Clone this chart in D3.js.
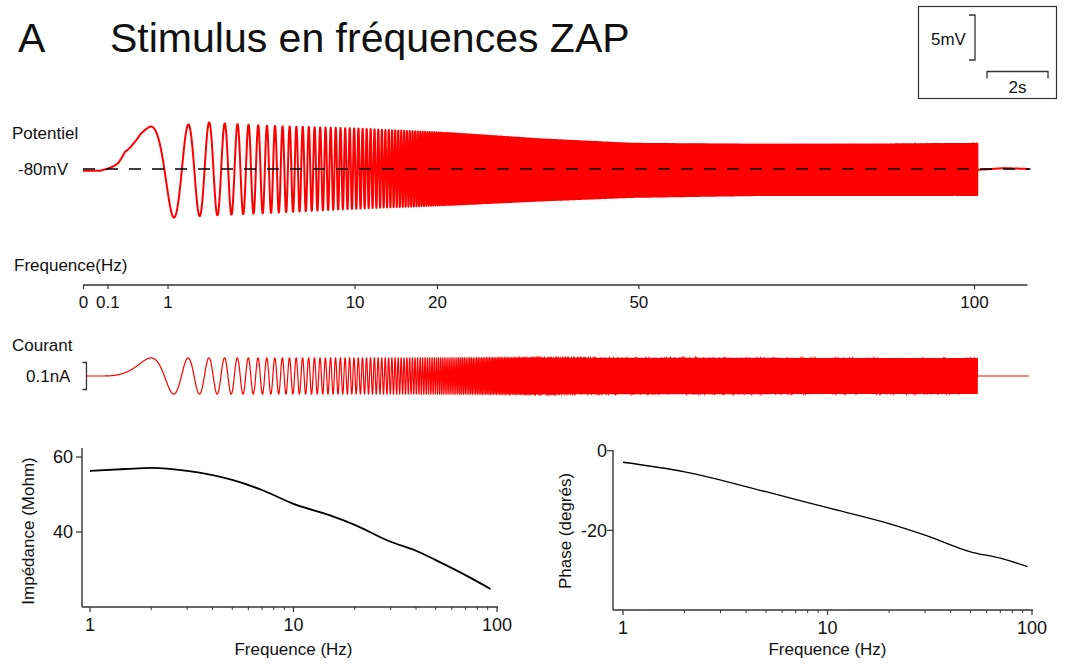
<!DOCTYPE html>
<html><head><meta charset="utf-8">
<script src="https://cdn.jsdelivr.net/npm/d3@7"></script>
<style>
body{margin:0;background:#fff}
svg{display:block}
text{font-family:"Liberation Sans",Arial,Helvetica,sans-serif;fill:#111}
</style>
</head><body>
<svg id="c" width="1068" height="665"></svg>
<script>
// ---------------- DATA ----------------
// Frequency annotation axis of the ZAP stimulus (Hz) and the time (s) at which it is reached
const freqTickValues = [0, 0.1, 1, 10, 20, 50, 100];
const freqTickLabels = ["0", "0.1", "1", "10", "20", "50", "100"];
const freqTickTimes  = [0, 0.8, 2.77, 8.9, 11.6, 18.2, 29.2];

// Instantaneous chirp frequency (time s -> Hz)
const chirpTimes = [0.56, 2.82, 5.97, 9.57, 11.6, 18.2, 29.3];
const chirpFreqs = [0, 0.82, 3.6, 8, 14, 40, 100];
const stimulusEnd = 29.31;   // s
const recordEnd = 31.0;      // s

// Current amplitude (nA)
const currentAmplitude = 0.067;

// Membrane potential envelope (mV relative to -80 mV)
const envTimes = [0, 0.56, 0.9, 1.15, 1.38, 1.64, 1.87, 2.13, 2.4, 2.95, 4.0, 6.0, 9.0, 12.0, 15.0, 18.0, 22.0, 26.0, 29.31, 29.32, 30.2, 31.0];
const envUpper = [-0.2, -0.2, 1.7, 3.1, 4.7, 5.2, 5.3, 4.8, 4.6, 4.7, 5.2, 4.8, 4.5, 4.0, 3.3, 2.8, 2.7, 2.7, 2.8, 0.0, 0.2, 0.0];
const envLower = [-0.2, -0.2, -1.3, -1.9, -1.7, -2.4, -3.1, -4.2, -5.0, -5.4, -5.2, -4.9, -4.4, -4.0, -3.5, -3.1, -2.9, -2.9, -2.9, -0.2, 0.0, 0.0];

// Impedance vs frequency
const impFreq = [1, 1.5, 2, 3, 5, 7, 10, 15, 20, 30, 40, 50, 70, 93];
const impValue = [56.3, 56.8, 57.1, 56.3, 53.9, 51.2, 47.5, 44.5, 41.9, 37.4, 35.0, 32.5, 28.5, 24.8];
const impTicks = [40, 60];

// Phase vs frequency (degrees)
const phaseFreq = [1, 2, 5, 10, 20, 30, 50, 70, 95];
const phaseValue = [-2.9, -5.3, -10.3, -14.3, -18.3, -21.2, -25.4, -27.0, -29.1];
const phaseTicks = [-20, 0];

const logTicksMajor = [1, 10, 100];
const logTicksMinor = [2,3,4,5,6,7,8,9,20,30,40,50,60,70,80,90];

// ---------------- DRAW ----------------
const svg = d3.select("#c");
const RED = "#ff0000", AX = "#333";

// Title
svg.append("text").attr("x", 18).attr("y", 52).attr("font-size", 41).text("A");
svg.append("text").attr("x", 110).attr("y", 52).attr("font-size", 41).text("Stimulus en fréquences ZAP");

// Scales for traces
const tScale = d3.scaleLinear().domain([0, 31.1]).range([83, 1032]);
const vScale = d3.scaleLinear().domain([-80, -75]).range([169, 124]);
const iScale = d3.scaleLinear().domain([0, 0.1]).range([376, 349]);

const sqrtF = d3.scaleLinear().domain(chirpTimes).range(chirpFreqs.map(Math.sqrt)).clamp(true);
const upS = d3.scaleLinear().domain(envTimes).range(envUpper).clamp(true);
const loS = d3.scaleLinear().domain(envTimes).range(envLower).clamp(true);
const phS = d3.scaleLog().domain(phaseFreq).range(phaseValue).clamp(true);

// Generate chirp traces
const dt = 0.0005;
const vPts = [], iPts = [];
let ph = 0;
const t0 = chirpTimes[0];
for (let t = 0; t <= recordEnd; t += dt) {
  const f = Math.pow(sqrtF(t + dt / 2), 2);
  const on = t >= t0 && t <= stimulusEnd;
  const s = on ? Math.sin(2 * Math.PI * ph) : 0;
  iPts.push([t, on ? currentAmplitude * s : 0]);
  const up = upS(t), lo = loS(t);
  const c = (up + lo) / 2, a = (up - lo) / 2;
  let v = c;
  if (on) {
    const lag = phS(Math.max(f, 1)) * Math.PI / 180;
    v = c + a * Math.sin(2 * Math.PI * ph + lag);
  }
  vPts.push([t, -80 + v]);
  ph += f * dt;
}

// Potential trace
svg.append("path")
  .attr("d", d3.line().x(d => tScale(d[0])).y(d => vScale(d[1]))(vPts))
  .attr("fill", "none").attr("stroke", RED).attr("stroke-width", 2).attr("stroke-linejoin", "round");
// dashed baseline
svg.append("line").attr("x1", tScale(0)).attr("x2", tScale(31.05))
  .attr("y1", vScale(-80)).attr("y2", vScale(-80))
  .attr("stroke", "#000").attr("stroke-width", 1.3).attr("stroke-dasharray", "12,11");

svg.append("text").attr("x", 12).attr("y", 139).attr("font-size", 17).text("Potentiel");
svg.append("text").attr("x", 18).attr("y", vScale(-80) + 6).attr("font-size", 17).text("-80mV");

// Frequency annotation axis
const fAxisScale = d3.scaleLinear().domain(freqTickValues).range(freqTickTimes.map(tScale));
const fAxisG = svg.append("g").attr("transform", "translate(0,285)");
fAxisG.append("line").attr("x1", tScale(0)).attr("x2", tScale(30.95)).attr("y1", 0).attr("y2", 0)
  .attr("stroke", AX).attr("stroke-width", 1.3);
fAxisG.call(d3.axisBottom(fAxisScale).tickValues(freqTickValues)
  .tickFormat((d, i) => freqTickLabels[i]).tickSize(4).tickPadding(7));
fAxisG.select(".domain").remove();
fAxisG.selectAll(".tick line").attr("stroke", AX).attr("stroke-width", 1.2);
fAxisG.selectAll(".tick text").attr("font-size", 17).attr("font-family", "Liberation Sans, Arial, sans-serif").attr("fill", "#111");
svg.append("text").attr("x", 14).attr("y", 271).attr("font-size", 17).text("Frequence(Hz)");

// Current trace
svg.append("path")
  .attr("d", d3.line().x(d => tScale(d[0])).y(d => iScale(d[1]))(iPts.filter(d => tScale(d[0]) >= 86.5)))
  .attr("fill", "none").attr("stroke", RED).attr("stroke-width", 1.2);
svg.append("text").attr("x", 12).attr("y", 351).attr("font-size", 17).text("Courant");
svg.append("text").attr("x", 26).attr("y", iScale(0) + 6).attr("font-size", 17).text("0.1nA");
// 0.1 nA bracket
{
  const yA = iScale(0.05), yB = iScale(-0.05), x = 86.5;
  svg.append("path").attr("d", `M${x - 4},${yA}H${x}V${yB}H${x - 4}`)
    .attr("fill", "none").attr("stroke", AX).attr("stroke-width", 1.3);
}

// Scale bar box
svg.append("rect").attr("x", 918.5).attr("y", 6.5).attr("width", 138).attr("height", 92)
  .attr("fill", "none").attr("stroke", AX).attr("stroke-width", 1.2);
{
  const y1 = 15, y2 = y1 + (vScale(-80) - vScale(-75)), x = 975;
  svg.append("path").attr("d", `M${x - 6},${y1}H${x}V${y2}H${x - 6}`)
    .attr("fill", "none").attr("stroke", AX).attr("stroke-width", 1.3);
  svg.append("text").attr("x", 931).attr("y", 45).attr("font-size", 17).text("5mV");
  const xa = 987, xb = xa + (tScale(2) - tScale(0)), yy = 71.5;
  svg.append("path").attr("d", `M${xa},${yy + 7}V${yy}H${xb}V${yy + 7}`)
    .attr("fill", "none").attr("stroke", AX).attr("stroke-width", 1.3);
  svg.append("text").attr("x", (xa + xb) / 2).attr("y", 93).attr("font-size", 17)
    .attr("text-anchor", "middle").text("2s");
}

// ---------------- Bottom plots ----------------
function bodePlot(opts) {
  const { xr, axisX0, yDomain, yr, yTop, xAxisY, freqs, vals, yTicks, ylabel, ylabelX, lw, yTickFmt, yTickX } = opts;
  const x = d3.scaleLog().domain([1, 100]).range(xr);
  const y = d3.scaleLinear().domain(yDomain).range(yr);
  const g = svg.append("g");
  g.append("line").attr("x1", axisX0).attr("x2", axisX0).attr("y1", yTop).attr("y2", xAxisY)
    .attr("stroke", AX).attr("stroke-width", 1.4);
  g.append("line").attr("x1", axisX0).attr("x2", xr[1] + 1).attr("y1", xAxisY).attr("y2", xAxisY)
    .attr("stroke", AX).attr("stroke-width", 1.4);
  yTicks.forEach(v => {
    g.append("line").attr("x1", axisX0 - 6).attr("x2", axisX0).attr("y1", y(v)).attr("y2", y(v))
      .attr("stroke", AX).attr("stroke-width", 1.2);
    g.append("text").attr("x", yTickX).attr("y", y(v)).attr("dy", "0.35em")
      .attr("text-anchor", "end").attr("font-size", 18).text(yTickFmt(v));
  });
  logTicksMajor.forEach(v => {
    g.append("line").attr("x1", x(v)).attr("x2", x(v)).attr("y1", xAxisY).attr("y2", xAxisY + 5)
      .attr("stroke", AX).attr("stroke-width", 1.2);
    g.append("text").attr("x", x(v)).attr("y", xAxisY + 24).attr("text-anchor", "middle")
      .attr("font-size", 18).text(v);
  });
  logTicksMinor.forEach(v => {
    g.append("line").attr("x1", x(v)).attr("x2", x(v)).attr("y1", xAxisY).attr("y2", xAxisY + 3)
      .attr("stroke", AX).attr("stroke-width", 1);
  });
  g.append("text").attr("x", x(10)).attr("y", 655).attr("text-anchor", "middle")
    .attr("font-size", 17).text("Frequence (Hz)");
  g.append("text").attr("transform", `translate(${ylabelX},531) rotate(-90)`)
    .attr("text-anchor", "middle").attr("font-size", 17).text(ylabel);
  g.append("path")
    .attr("d", d3.line().curve(d3.curveMonotoneX).x(d => x(d)).y((d, i) => y(vals[i]))(freqs))
    .attr("fill", "none").attr("stroke", "#000").attr("stroke-width", lw);
}

bodePlot({
  xr: [90, 497], axisX0: 82, yDomain: [20, 60], yr: [607, 457], yTop: 448, xAxisY: 607,
  freqs: impFreq, vals: impValue, yTicks: impTicks, ylabel: "Impédance (Mohm)", ylabelX: 34,
  lw: 1.8, yTickFmt: d => d, yTickX: 73
});
bodePlot({
  xr: [623, 1032], axisX0: 613, yDomain: [-40, 0], yr: [610, 450.7], yTop: 450, xAxisY: 610,
  freqs: phaseFreq, vals: phaseValue, yTicks: phaseTicks, ylabel: "Phase (degrés)", ylabelX: 571,
  lw: 1.3, yTickFmt: d => d, yTickX: 607
});
</script>
</body></html>
